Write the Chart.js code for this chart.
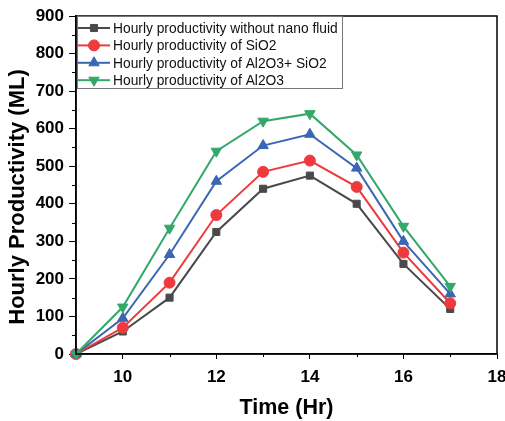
<!DOCTYPE html>
<html lang="en">
<head>
    <meta charset="UTF-8">
    <title>Hourly Productivity vs Time</title>
    <script src="https://cdn.jsdelivr.net/npm/chart.js"></script>
    <style>
        html, body {
            margin: 0;
            padding: 0;
            background: #fff;
            overflow: hidden;
        }
        #prodChart {
            display: block;
        }
    </style>
</head>
<body>
    <canvas id="prodChart" width="505" height="421"></canvas>

    <script>
        // Data
        const hours = [9, 10, 11, 12, 13, 14, 15, 16, 17];
        const withoutNano = [0, 60, 150, 325, 440, 475, 400, 240, 120];
        const sio2 = [0, 70, 190, 370, 485, 515, 445, 270, 135];
        const al2o3Sio2 = [0, 95, 265, 460, 555, 585, 495, 300, 160];
        const al2o3 = [0, 125, 335, 540, 620, 640, 530, 340, 180];

        const seriesLabels = [
            'Hourly productivity without nano fluid',
            'Hourly productivity of SiO2',
            'Hourly productivity of Al2O3+ SiO2',
            'Hourly productivity of Al2O3'
        ];
        const yTitle = 'Hourly Productivity (ML)';

        const xTicks = [10, 12, 14, 16, 18];
        const xMinorTicks = [11, 13, 15, 17];
        const yTicks = [0, 100, 200, 300, 400, 500, 600, 700, 800, 900];
        const yMinorTicks = [50, 150, 250, 350, 450, 550, 650, 750, 850];

        const FONT = 'Arial, "Liberation Sans", sans-serif';

        function makeSet(label, values, color, style, rotation, radius, order) {
            return {
                label: label,
                data: hours.map((h, i) => ({ x: h, y: values[i] })),
                borderColor: color,
                backgroundColor: color,
                borderWidth: 2,
                pointStyle: style,
                pointRotation: rotation,
                pointRadius: radius,
                pointHoverRadius: radius,
                pointBorderWidth: 1,
                tension: 0,
                clip: false,
                order: order
            };
        }

        // frame, minor ticks, y title and boxed legend inside the plot
        const extrasPlugin = {
            id: 'extras',
            afterDraw(chart) {
                const ctx = chart.ctx;
                const area = chart.chartArea;
                const xs = chart.scales.x;
                const ys = chart.scales.y;
                ctx.save();

                // minor ticks
                ctx.strokeStyle = '#000';
                ctx.lineWidth = 1;
                ctx.beginPath();
                xMinorTicks.forEach(v => {
                    const px = Math.round(xs.getPixelForValue(v)) + 0.5;
                    ctx.moveTo(px, area.bottom);
                    ctx.lineTo(px, area.bottom + 3);
                });
                yMinorTicks.forEach(v => {
                    const py = Math.round(ys.getPixelForValue(v)) + 0.5;
                    ctx.moveTo(area.left, py);
                    ctx.lineTo(area.left - 4, py);
                });
                ctx.stroke();

                // frame
                ctx.lineWidth = 1.5;
                ctx.strokeStyle = '#000';
                ctx.strokeRect(area.left, area.top, area.right - area.left, area.bottom - area.top);

                // y axis title (sits a little below the axis centre in the original)
                ctx.save();
                ctx.translate(18, 197);
                ctx.rotate(-Math.PI / 2);
                ctx.font = 'bold 22px ' + FONT;
                ctx.fillStyle = '#000';
                ctx.textAlign = 'center';
                ctx.textBaseline = 'middle';
                ctx.fillText(yTitle, 0, 0);
                ctx.restore();

                // legend
                const bx = area.left + 1, by = area.top;
                const bw = 265, bh = 72;
                ctx.fillStyle = '#fff';
                ctx.fillRect(bx, by, bw, bh);
                ctx.lineWidth = 1;
                ctx.strokeStyle = '#777';
                ctx.strokeRect(bx + 0.5, by + 0.5, bw, bh);

                ctx.font = '13.8px ' + FONT;
                ctx.textBaseline = 'middle';
                ctx.textAlign = 'left';
                chart.data.datasets.forEach((ds, i) => {
                    const y = by + 12 + i * 17.4;
                    ctx.strokeStyle = ds.borderColor;
                    ctx.lineWidth = 2;
                    ctx.beginPath();
                    ctx.moveTo(bx + 1, y);
                    ctx.lineTo(bx + 33, y);
                    ctx.stroke();
                    ctx.fillStyle = ds.backgroundColor;
                    ctx.lineWidth = 1;
                    Chart.helpers.drawPoint(ctx, {
                        pointStyle: ds.pointStyle,
                        rotation: ds.pointRotation,
                        radius: ds.pointRadius,
                        borderWidth: 1
                    }, bx + 17, y);
                    ctx.fillStyle = '#111';
                    ctx.fillText(ds.label, bx + 36, y + 1);
                });
                ctx.restore();
            }
        };

        const ctx = document.getElementById('prodChart').getContext('2d');
        new Chart(ctx, {
            type: 'line',
            data: {
                datasets: [
                    makeSet(seriesLabels[0], withoutNano, '#4a4a4a', 'rect', 0, 5, 4),
                    makeSet(seriesLabels[1], sio2, '#ee3a3e', 'circle', 0, 5.5, 3),
                    makeSet(seriesLabels[2], al2o3Sio2, '#3a66b4', 'triangle', 0, 6, 2),
                    makeSet(seriesLabels[3], al2o3, '#34a76a', 'triangle', 180, 6, 1)
                ]
            },
            options: {
                responsive: false,
                animation: false,
                maintainAspectRatio: false,
                layout: {
                    padding: { top: 16, right: 8, left: 0, bottom: 0 }
                },
                plugins: {
                    legend: { display: false },
                    tooltip: { enabled: false }
                },
                scales: {
                    x: {
                        type: 'linear',
                        min: 9,
                        max: 18,
                        afterBuildTicks: scale => {
                            scale.ticks = xTicks.map(v => ({ value: v }));
                        },
                        afterFit: scale => {
                            scale.height = 67;
                            scale.paddingLeft = 0;
                            scale.paddingRight = 0;
                        },
                        grid: {
                            drawOnChartArea: false,
                            drawTicks: true,
                            tickLength: 5,
                            color: '#000'
                        },
                        border: { color: '#000', width: 1.5 },
                        ticks: {
                            color: '#000',
                            padding: 8,
                            maxRotation: 0,
                            font: { family: FONT, size: 17, weight: 'bold' }
                        },
                        title: {
                            display: true,
                            text: 'Time (Hr)',
                            color: '#000',
                            padding: { top: 0, bottom: 0 },
                            font: { family: FONT, size: 21.5, weight: 'bold' }
                        }
                    },
                    y: {
                        min: 0,
                        max: 900,
                        afterBuildTicks: scale => {
                            scale.ticks = yTicks.map(v => ({ value: v }));
                        },
                        afterFit: scale => { scale.width = 76; },
                        grid: {
                            drawOnChartArea: false,
                            drawTicks: true,
                            tickLength: 7,
                            color: '#000'
                        },
                        border: { color: '#000', width: 1.5 },
                        ticks: {
                            color: '#000',
                            padding: 5,
                            autoSkip: false,
                            font: { family: FONT, size: 17, weight: 'bold' }
                        },
                        title: { display: false }
                    }
                }
            },
            plugins: [extrasPlugin]
        });
    </script>
</body>
</html>
